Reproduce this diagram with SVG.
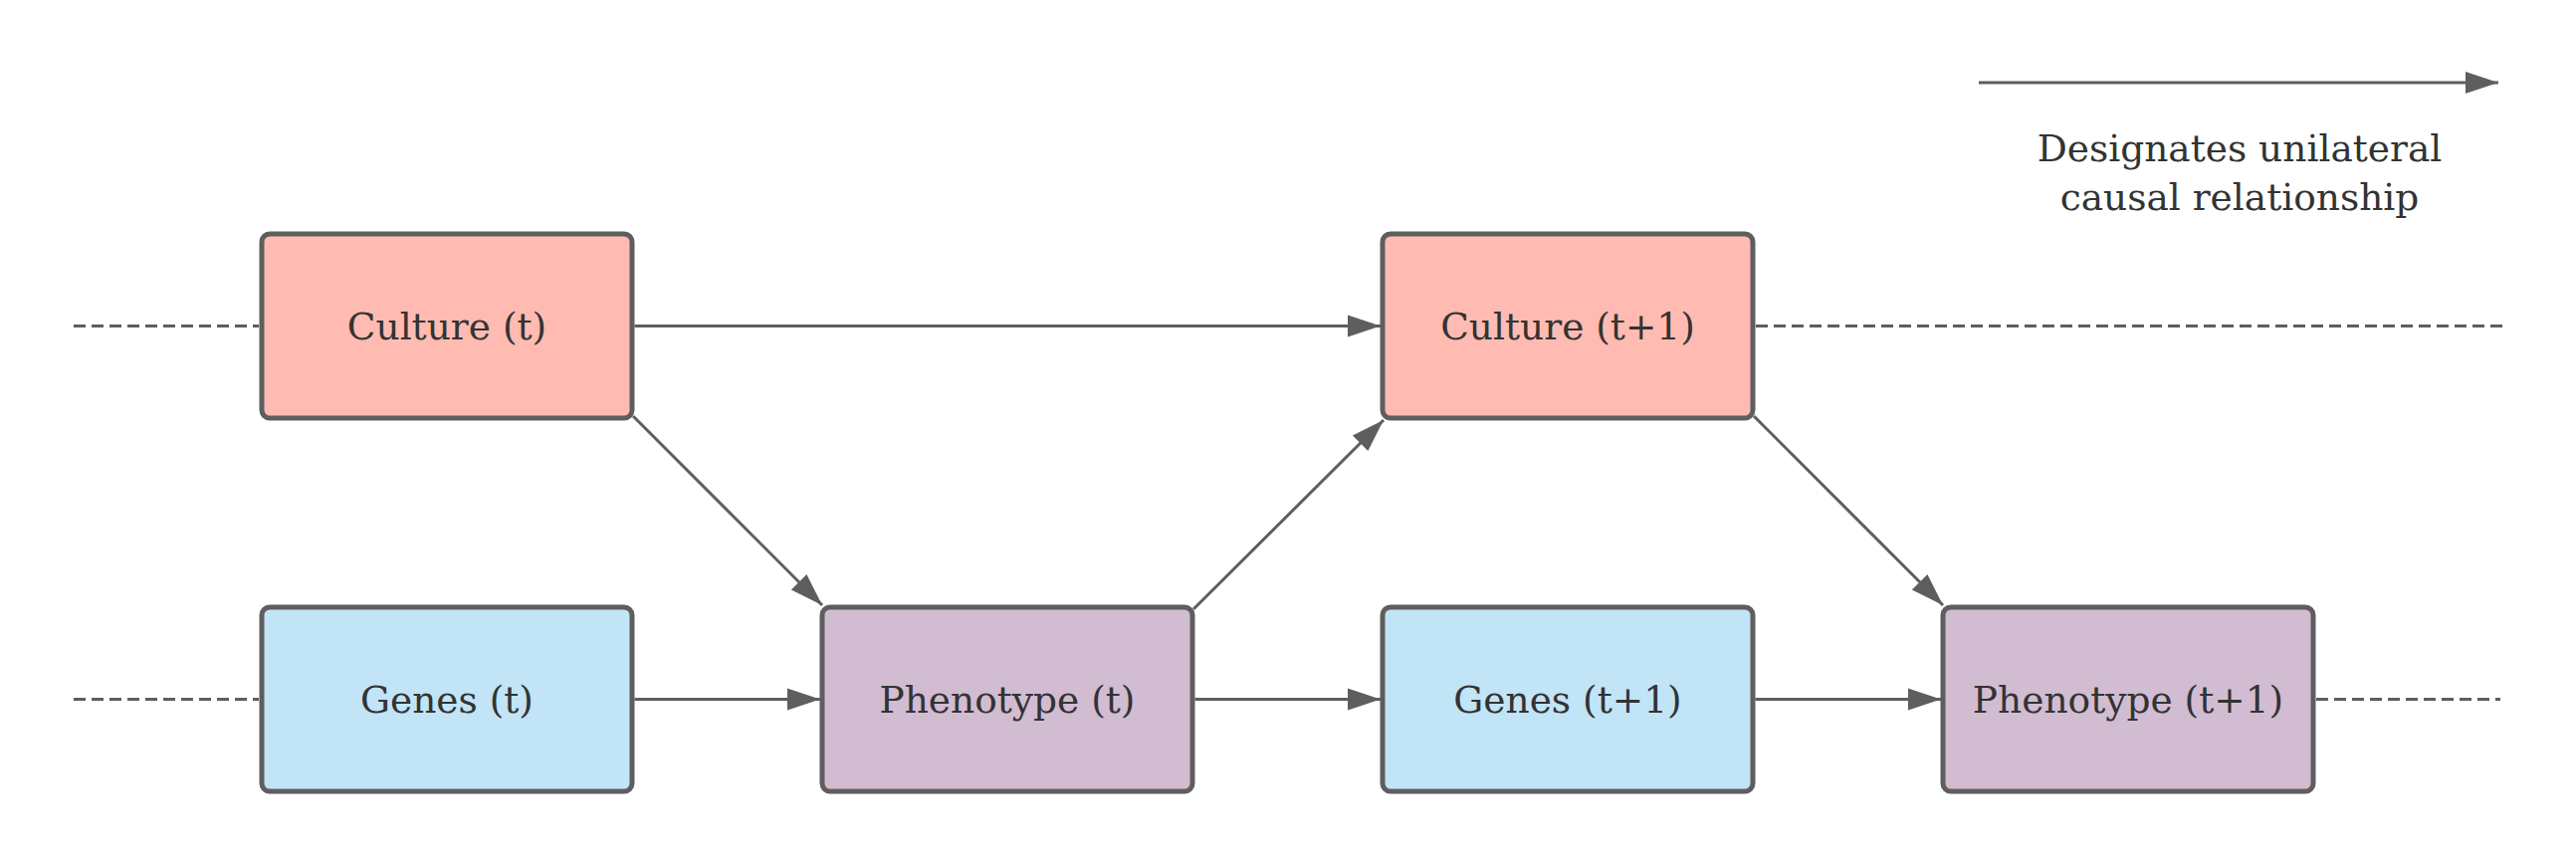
<svg xmlns="http://www.w3.org/2000/svg" width="2588" height="872" viewBox="0 0 2588 872">
<defs>
<marker id="arr" markerUnits="userSpaceOnUse" markerWidth="34" markerHeight="22" refX="33" refY="11" orient="auto" overflow="visible">
<path d="M0,0 L33,11 L0,22 Z" fill="#5e5e5e"/>
</marker>
<style>
.box{stroke:#5e5e5e;stroke-width:5}
.culture{fill:#ffbbb1}
.genes{fill:#c1e4f7}
.pheno{fill:#d1bcd2}
.lbl{font-family:"DejaVu Serif","Liberation Serif",serif;font-size:37.5px;fill:#333333;text-anchor:middle}
.conn{stroke:#5e5e5e;stroke-width:3;fill:none;marker-end:url(#arr)}
.dash{stroke:#5e5e5e;stroke-width:3;fill:none;stroke-dasharray:12 6}
</style>
</defs>
<rect width="2588" height="872" fill="#ffffff"/>
<g id="connectors">
<line class="dash" x1="74" y1="327.5" x2="260" y2="327.5"/>
<line class="dash" x1="74" y1="702.5" x2="260" y2="702.5"/>
<line class="dash" x1="1764" y1="327.5" x2="2514" y2="327.5"/>
<line class="dash" x1="2327" y1="702.5" x2="2512" y2="702.5"/>
<line class="conn" x1="637.5" y1="327.5" x2="1387" y2="327.5"/>
<line class="conn" x1="636" y1="418" x2="826" y2="608"/>
<line class="conn" x1="1199" y1="612" x2="1390" y2="422"/>
<line class="conn" x1="1762" y1="418" x2="1952" y2="608"/>
<line class="conn" x1="637.5" y1="702.5" x2="824" y2="702.5"/>
<line class="conn" x1="1200.5" y1="702.5" x2="1387" y2="702.5"/>
<line class="conn" x1="1763.5" y1="702.5" x2="1950" y2="702.5"/>
<line class="conn" x1="1988" y1="83" x2="2510" y2="83"/>
</g>
<g id="culture-t">
<rect class="box culture" x="263" y="235" width="372" height="185" rx="8"/>
<text class="lbl" x="449" y="341">Culture (t)</text>
</g>
<g id="culture-t1">
<rect class="box culture" x="1389" y="235" width="372" height="185" rx="8"/>
<text class="lbl" x="1575" y="341">Culture (t+1)</text>
</g>
<g id="genes-t">
<rect class="box genes" x="263" y="610" width="372" height="185" rx="8"/>
<text class="lbl" x="449" y="716">Genes (t)</text>
</g>
<g id="phenotype-t">
<rect class="box pheno" x="826" y="610" width="372" height="185" rx="8"/>
<text class="lbl" x="1012" y="716">Phenotype (t)</text>
</g>
<g id="genes-t1">
<rect class="box genes" x="1389" y="610" width="372" height="185" rx="8"/>
<text class="lbl" x="1575" y="716">Genes (t+1)</text>
</g>
<g id="phenotype-t1">
<rect class="box pheno" x="1952" y="610" width="372" height="185" rx="8"/>
<text class="lbl" x="2138" y="716">Phenotype (t+1)</text>
</g>
<g id="legend">
<text class="lbl" x="2250" y="162">Designates unilateral</text>
<text class="lbl" x="2250" y="211">causal relationship</text>
</g>
</svg>
